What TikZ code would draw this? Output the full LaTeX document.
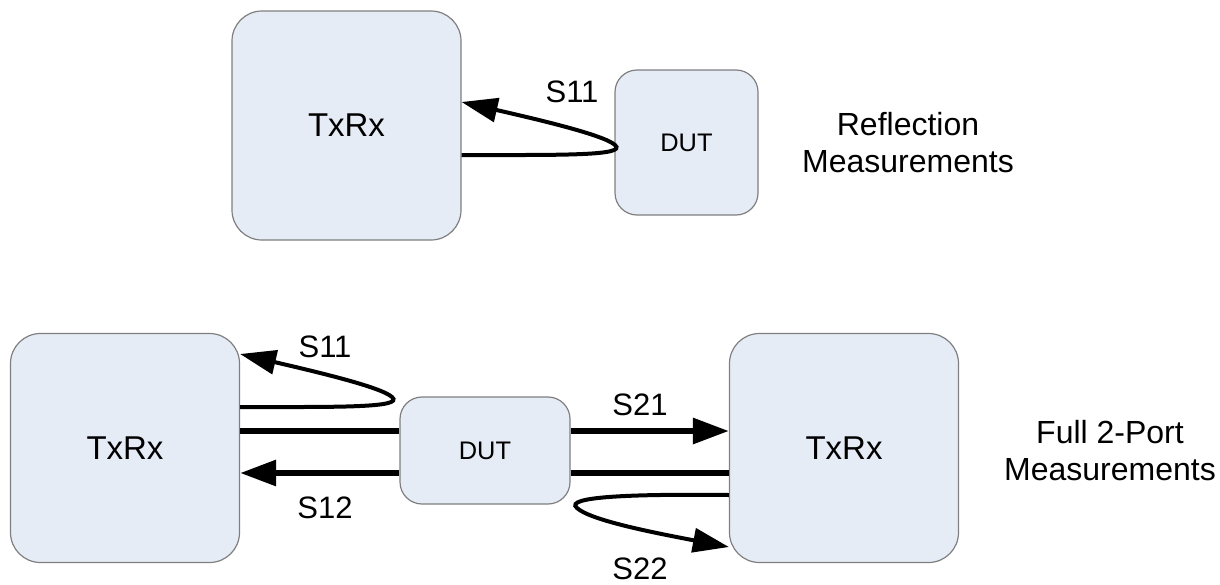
\documentclass[tikz,border=0pt]{standalone}
\usepackage{fontspec}
\setmainfont{Liberation Sans}
\usetikzlibrary{arrows.meta}
\definecolor{boxfill}{HTML}{E6ECF6}
\definecolor{boxline}{HTML}{7F7F7F}

\begin{document}
\begin{tikzpicture}[x=0.5pt,y=-0.5pt,
  unit/.style={draw=boxline, fill=boxfill, line width=0.6pt, rounded corners=15pt, minimum width=114.5pt, minimum height=114.5pt, inner sep=0pt, font=\fontsize{16.5}{19}\selectfont},
  dutbox/.style={draw=boxline, fill=boxfill, line width=0.6pt, rounded corners=11pt, inner sep=0pt, font=\fontsize{12.7}{15}\selectfont},
  wire/.style={line width=3pt},
  sig/.style={line width=3pt, -{Triangle[length=18pt,width=12.5pt]}},
  loopsig/.style={line width=2pt, -{Triangle[length=18pt,width=12pt]}},
  slabel/.style={font=\fontsize{15.5}{18}\selectfont},
  caption/.style={align=center, font=\fontsize{16}{18.5}\selectfont}]
\useasboundingbox (0,0) rectangle (1220,584);
\node[unit] (tx1) at (346.5,125.5) {TxRx};
\node[dutbox, minimum width=71.5pt, minimum height=72.5pt] (dut1) at (686.5,142.5) {DUT};
\draw[loopsig] (tx1.east |- 0,155) .. controls (560,155) and (628,156) .. (615,145) .. controls (604,135) and (540,120) .. (tx1.east |- 0,102);
\node[slabel] (s11a) at (572,92) {S11};
\node[caption] (refl) at (908,143) {Reflection\\Measurements};
\node[unit] (tx2) at (125,448) {TxRx};
\node[dutbox, minimum width=85pt, minimum height=53.5pt] (dut2) at (485,450.5) {DUT};
\node[unit] (tx3) at (844,448) {TxRx};
\draw[loopsig] (tx2.east |- 0,407) .. controls (337,407) and (405,408) .. (392,397) .. controls (381,387) and (317,372) .. (tx2.east |- 0,354);
\draw[wire] (tx2.east |- 0,431) -- (dut2.west |- 0,431);
\draw[sig] (dut2.west |- 0,473) -- (tx2.east |- 0,473);
\draw[sig] (dut2.east |- 0,431) -- (tx3.west |- 0,431);
\draw[wire] (dut2.east |- 0,473) -- (tx3.west |- 0,473);
\draw[loopsig] (tx3.west |- 0,495) .. controls (640,494) and (562,496) .. (577,508) .. controls (590,520) and (650,532) .. (tx3.west |- 0,547);
\node[slabel] (s11b) at (325,347) {S11};
\node[slabel] (s12) at (325,508) {S12};
\node[slabel] (s21) at (640,405) {S21};
\node[slabel] (s22) at (640,569) {S22};
\node[caption] (full) at (1110,451) {Full 2-Port\\Measurements};
\end{tikzpicture}
\end{document}
